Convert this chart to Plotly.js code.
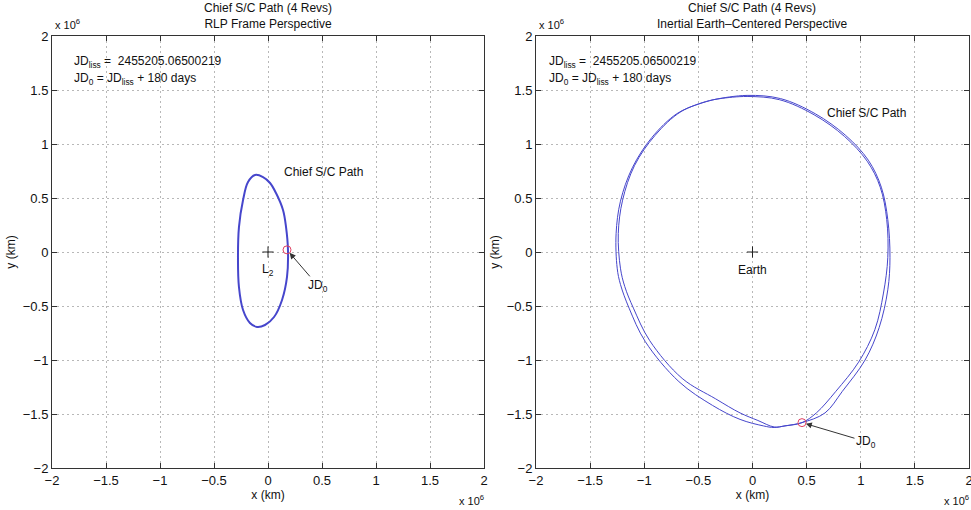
<!DOCTYPE html>
<html><head><meta charset="utf-8">
<script src="https://cdn.plot.ly/plotly-3.0.1.min.js"></script>
<style>body{margin:0;background:#fff}#c{width:971px;height:510px}</style>
</head><body><div id="c"></div><script>
// Values in units of 10^6 km
const rlpX = [-0.12, -0.046, 0.019, 0.074, 0.139, 0.167, 0.185, 0.176, 0.130, 0.056, -0.028, -0.102, -0.167, -0.231, -0.269, -0.278, -0.269, -0.231, -0.185, -0.12];
const rlpY = [0.713, 0.694, 0.639, 0.546, 0.389, 0.231, 0.019, -0.231, -0.444, -0.602, -0.676, -0.694, -0.657, -0.537, -0.324, -0.074, 0.231, 0.481, 0.648, 0.713];

const inertOuterX = [0.457, 0.67, 0.83, 1.04, 1.17, 1.25, 1.27, 1.25, 1.19, 1.07, 0.86, 0.58, 0.26, -0.05, -0.36, -0.50, -0.70, -0.93, -1.11, -1.22, -1.26, -1.25, -1.22, -1.14, -0.99, -0.68, -0.37, -0.115, 0.10, 0.20, 0.30, 0.457];
const inertOuterY = [-1.58, -1.49, -1.29, -1.00, -0.70, -0.35, -0.05, 0.30, 0.60, 0.85, 1.08, 1.28, 1.42, 1.45, 1.41, 1.37, 1.28, 1.06, 0.78, 0.47, 0.17, -0.15, -0.30, -0.52, -0.83, -1.20, -1.42, -1.55, -1.61, -1.625, -1.61, -1.58];
const inertInnerX = [0.457, 0.59, 0.77, 0.98, 1.13, 1.21, 1.25, 1.24, 1.18, 1.06, 0.85, 0.57, 0.25, -0.05, -0.30, -0.40, -0.66, -0.90, -1.09, -1.20, -1.24, -1.22, -1.18, -1.10, -0.95, -0.65, -0.34, -0.115, 0.05, 0.20, 0.30, 0.457];
const inertInnerY = [-1.58, -1.49, -1.29, -1.02, -0.72, -0.38, -0.05, 0.30, 0.60, 0.84, 1.07, 1.27, 1.41, 1.44, 1.42, 1.40, 1.30, 1.08, 0.80, 0.48, 0.17, -0.15, -0.32, -0.52, -0.82, -1.17, -1.36, -1.49, -1.56, -1.62, -1.61, -1.58];

const jd0RlpX = [0.176], jd0RlpY = [0.02];
const jd0InX = [0.457], jd0InY = [-1.58];
const centerX = [0], centerY = [0];

const tickVals = [-2, -1.5, -1, -0.5, 0, 0.5, 1, 1.5, 2];
const tickText = ['\u22122', '\u22121.5', '\u22121', '\u22120.5', '0', '0.5', '1', '1.5', '2'];

const FONT = 'Liberation Sans, Arial, Helvetica, sans-serif';
const blue = '#4646cc';

const traces = [
  {x: rlpX, y: rlpY, xaxis: 'x', yaxis: 'y', mode: 'lines', line: {color: blue, width: 2, shape: 'spline', smoothing: 1}},
  {x: centerX, y: centerY, xaxis: 'x', yaxis: 'y', mode: 'markers', marker: {symbol: 'cross-thin', size: 8, line: {color: '#222', width: 1}}},
  {x: jd0RlpX, y: jd0RlpY, xaxis: 'x', yaxis: 'y', mode: 'markers', marker: {symbol: 'circle-open', size: 8, color: '#e04060', line: {width: 1}}},
  {x: inertOuterX, y: inertOuterY, xaxis: 'x2', yaxis: 'y2', mode: 'lines', line: {color: blue, width: 1, shape: 'spline', smoothing: 1}},
  {x: inertInnerX, y: inertInnerY, xaxis: 'x2', yaxis: 'y2', mode: 'lines', line: {color: blue, width: 1, shape: 'spline', smoothing: 1}},
  {x: centerX, y: centerY, xaxis: 'x2', yaxis: 'y2', mode: 'markers', marker: {symbol: 'cross-thin', size: 8, line: {color: '#222', width: 1}}},
  {x: jd0InX, y: jd0InY, xaxis: 'x2', yaxis: 'y2', mode: 'markers', marker: {symbol: 'circle-open', size: 8, color: '#e04060', line: {width: 1}}}
];

function ax(domain, anchor, title) {
  return {
    domain: domain, anchor: anchor, range: [-2, 2], fixedrange: true,
    tickmode: 'array', tickvals: tickVals, ticktext: tickText,
    ticks: 'inside', ticklen: 5, tickcolor: '#333', tickwidth: 1,
    showline: true, linecolor: '#333', linewidth: 1, mirror: 'ticks',
    showgrid: true, gridcolor: '#b8b8b8', griddash: '2px,3px', gridwidth: 1,
    zeroline: false, ticklabeloverflow: 'allow',
    tickfont: {family: FONT, size: 13, color: '#111'},
    title: {text: title, font: {family: FONT, size: 12, color: '#111'}, standoff: 4}
  };
}

const xd1 = [52/971, 484/971], xd2 = [536/971, 969/971], yd = [1 - 468/510, 1 - 36/510];

const ann = [];
function txt(x, y, text, xref, yref, opts) {
  ann.push(Object.assign({x: x, y: y, xref: xref, yref: yref, text: text, showarrow: false,
    xanchor: 'center', yanchor: 'middle',
    font: {family: FONT, size: 12, color: '#111'}}, opts || {}));
}
const small = {family: FONT, size: 11, color: '#111'};
// subplot titles
txt(268/971, 1 - 33/510, 'Chief S/C Path (4 Revs)<br>RLP Frame Perspective', 'paper', 'paper', {yanchor: 'bottom'});
txt(752/971, 1 - 33/510, 'Chief S/C Path (4 Revs)<br>Inertial Earth\u2013Centered Perspective', 'paper', 'paper', {yanchor: 'bottom'});
// multipliers
txt(53/971, 1 - 24/510, 'x 10<sup>6</sup>', 'paper', 'paper', {xanchor: 'left', font: small});
txt(537/971, 1 - 24/510, 'x 10<sup>6</sup>', 'paper', 'paper', {xanchor: 'left', font: small});
txt(486/971, 1 - 500/510, 'x 10<sup>6</sup>', 'paper', 'paper', {xanchor: 'right', font: small});
txt(971/971, 1 - 500/510, 'x 10<sup>6</sup>', 'paper', 'paper', {xanchor: 'right', font: small});
// JD text
txt(-1.815, 1.76, 'JD<sub>liss</sub> =  2455205.06500219', 'x', 'y', {xanchor: 'left'});
txt(-1.815, 1.60, 'JD<sub>0</sub> = JD<sub>liss</sub> + 180 days', 'x', 'y', {xanchor: 'left'});
txt(-1.90, 1.76, 'JD<sub>liss</sub> =  2455205.06500219', 'x2', 'y2', {xanchor: 'left'});
txt(-1.90, 1.60, 'JD<sub>0</sub> = JD<sub>liss</sub> + 180 days', 'x2', 'y2', {xanchor: 'left'});
// labels
txt(0.51, 0.74, 'Chief S/C Path', 'x', 'y');
txt(0.0, -0.17, 'L<sub>2</sub>', 'x', 'y');
txt(1.05, 1.29, 'Chief S/C Path', 'x2', 'y2');
txt(0.0, -0.17, 'Earth', 'x2', 'y2');
// arrows to JD0
ann.push({x: jd0RlpX[0], y: jd0RlpY[0], xref: 'x', yref: 'y', text: 'JD<sub>0</sub>', showarrow: true,
  ax: 31, ay: 36, arrowhead: 2, arrowsize: 1.2, arrowwidth: 1, arrowcolor: '#333', standoff: 4,
  font: {family: FONT, size: 12, color: '#111'}});
ann.push({x: jd0InX[0], y: jd0InY[0], xref: 'x2', yref: 'y2', text: 'JD<sub>0</sub>', showarrow: true,
  ax: 64, ay: 19, arrowhead: 2, arrowsize: 1.2, arrowwidth: 1, arrowcolor: '#333', standoff: 4,
  font: {family: FONT, size: 12, color: '#111'}});

const layout = {
  width: 971, height: 510, margin: {l: 0, r: 0, t: 0, b: 0},
  paper_bgcolor: '#fff', plot_bgcolor: '#fff', showlegend: false,
  font: {family: FONT, size: 12, color: '#111'},
  xaxis: ax(xd1, 'y', 'x (km)'),
  yaxis: ax(yd, 'x', 'y (km)'),
  xaxis2: ax(xd2, 'y2', 'x (km)'),
  yaxis2: ax(yd, 'x2', 'y (km)'),
  annotations: ann
};

Plotly.newPlot('c', traces, layout, {staticPlot: true, displayModeBar: false});
</script></body></html>
